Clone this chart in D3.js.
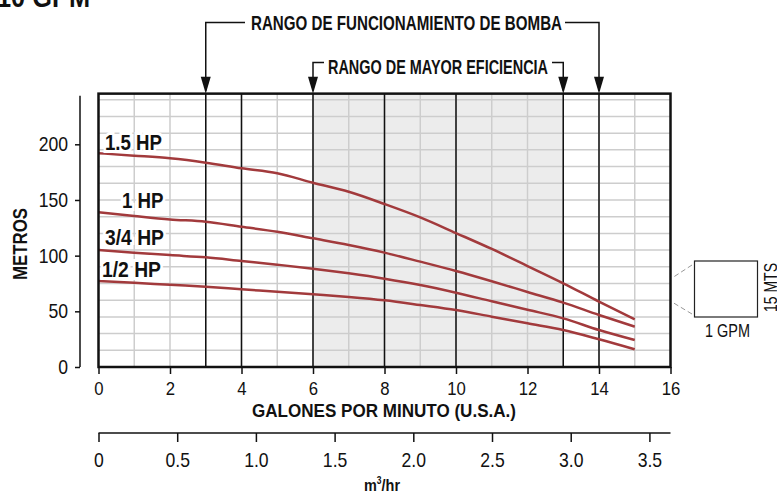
<!DOCTYPE html>
<html>
<head>
<meta charset="utf-8">
<script src="https://cdn.jsdelivr.net/npm/d3@7"></script>
<style>
  body { margin: 0; background: #fff; }
  svg { display: block; }
  text { font-family: "Liberation Sans Narrow", "Arial Narrow", "Liberation Sans", sans-serif; fill: #111; }
</style>
</head>
<body>
<div id="chart"></div>
<script>
// data
var gpm = [0, 1, 2, 3, 4, 5, 6, 7, 8, 9, 10, 11, 12, 13, 14, 15];
var hp15 = [192, 189.8, 187.4, 183.5, 178.4, 174, 165.5, 157.4, 146.4, 134.4, 120.3, 106, 90.7, 75.2, 58.7, 42.8];
var hp1  = [139, 135.6, 132.5, 130.5, 126, 121.5, 115.6, 109.6, 102.7, 94.6, 86.2, 77, 67.4, 57.8, 46.7, 36.2];
var hp34 = [105, 102.7, 100.5, 98.5, 95.2, 91.9, 88.3, 84.1, 79.3, 73.6, 66.7, 59, 51.4, 43.7, 33.2, 24.2];
var hp12 = [77.2, 75.7, 73.8, 72.1, 69.8, 67.6, 65.3, 62.9, 59.9, 55.7, 51.2, 45.2, 39.2, 33.2, 24.9, 15.9];
var seriesNames = ["1.5 HP", "1 HP", "3/4 HP", "1/2 HP"];

var xTicks = [0, 2, 4, 6, 8, 10, 12, 14, 16];
var yTicks = [0, 50, 100, 150, 200];
var m3Ticks = [0, 0.5, 1.0, 1.5, 2.0, 2.5, 3.0, 3.5];
var darkLines = [3, 4, 6, 8, 10, 13, 14];
var operRange = [3, 14];   // rango de funcionamiento
var effRange = [6, 13];    // rango de mayor eficiencia

var W = 777, H = 496;
var GPM_PER_M3 = 4.4029;
var SX = 0.88; // squeeze for the narrow look of the tick labels

var svg = d3.select("#chart").append("svg")
  .attr("width", W).attr("height", H);

//scales
var x = d3.scaleLinear().domain([0, 16]).range([98.5, 670.5]);
var y = d3.scaleLinear().domain([0, 200]).range([367, 144.3]);
var yTop = 245.5;
var xm3 = d3.scaleLinear().domain([0, 16 / GPM_PER_M3]).range([98.5, 670.5]);

var red = "#a23a3c";

//text with fixed drawn width (no narrow font installed)
function fitText(parent, str, px, py, size, len, bold, anchor) {
  return parent.append("text")
    .attr("x", px).attr("y", py)
    .attr("font-size", size)
    .attr("font-weight", bold ? "bold" : "normal")
    .attr("text-anchor", anchor || "middle")
    .attr("textLength", len)
    .attr("lengthAdjust", "spacingAndGlyphs")
    .text(str);
}

//shaded efficiency band
svg.append("rect")
  .attr("x", x(effRange[0])).attr("y", y(yTop))
  .attr("width", x(effRange[1]) - x(effRange[0]))
  .attr("height", y(0) - y(yTop))
  .attr("fill", "#ececec");

//light grid
svg.append("g").selectAll("line")
  .data(d3.range(1, 16))
  .join("line")
  .attr("x1", d => x(d)).attr("x2", d => x(d))
  .attr("y1", y(yTop)).attr("y2", y(0))
  .attr("stroke", "#cdcdcd").attr("stroke-width", 1.5);

svg.append("g").selectAll("line")
  .data(d3.range(15, 241, 15))
  .join("line")
  .attr("x1", x(0)).attr("x2", x(16))
  .attr("y1", d => y(d)).attr("y2", d => y(d))
  .attr("stroke", "#cdcdcd").attr("stroke-width", 1.5);

//dark verticals
svg.append("g").selectAll("line")
  .data(darkLines)
  .join("line")
  .attr("x1", d => x(d)).attr("x2", d => x(d))
  .attr("y1", y(yTop)).attr("y2", y(0))
  .attr("stroke", "#111").attr("stroke-width", 1.5);

//curves
var line = d3.line()
  .x((d, i) => x(gpm[i]))
  .y(d => y(d))
  .curve(d3.curveMonotoneX);

svg.append("g").selectAll("path")
  .data([hp15, hp1, hp34, hp12])
  .join("path")
  .attr("d", d => line(d))
  .attr("fill", "none")
  .attr("stroke", red)
  .attr("stroke-width", 2.5);

//box
svg.append("rect")
  .attr("x", x(0)).attr("y", y(yTop))
  .attr("width", x(16) - x(0)).attr("height", y(0) - y(yTop))
  .attr("fill", "none").attr("stroke", "#111").attr("stroke-width", 2.5);

//curve labels
var labelPos = [[105, 150, 57], [122, 208, 41.5], [105, 245, 59], [102, 277, 59]];
seriesNames.forEach(function(name, i) {
  fitText(svg, name, labelPos[i][0], labelPos[i][1], 22, labelPos[i][2], true, "start")
    .attr("stroke", "#fff").attr("stroke-width", 6)
    .attr("paint-order", "stroke");
});

//y axis
var yaxis = d3.axisLeft(y).tickValues(yTicks).tickSize(5).tickPadding(7);
var gy = svg.append("g")
  .attr("transform", "translate(80,0)")
  .call(yaxis);
gy.select(".domain").attr("d", "M0," + y(yTop - 2) + "V" + y(0)).attr("stroke", "#111").attr("stroke-width", 1.5);
gy.selectAll(".tick line").attr("stroke", "#111").attr("stroke-width", 1.5);
gy.selectAll(".tick text")
  .attr("font-size", 20).attr("font-family", null)
  .attr("x", -12 / SX)
  .attr("transform", "scale(" + SX + ",1)");

var metros = fitText(svg, "METROS", 0, 0, 21, 72, true);
metros.attr("transform", "translate(26.5,244) rotate(-90)");

//x axis (GPM)
var xaxis = d3.axisBottom(x).tickValues(xTicks).tickSize(7).tickPadding(8);
var gx = svg.append("g")
  .attr("transform", "translate(0," + y(0) + ")")
  .call(xaxis);
gx.select(".domain").remove();
gx.selectAll(".tick line").attr("stroke", "#111").attr("stroke-width", 1.5);
gx.selectAll(".tick text")
  .attr("font-size", 19).attr("font-family", null)
  .attr("transform", "scale(" + SX + ",1)");

fitText(svg, "GALONES POR MINUTO (U.S.A.)", 384, 417, 18.5, 264, true);

//x axis (m3/hr)
var m3axis = d3.axisBottom(xm3).tickValues(m3Ticks).tickSize(9).tickPadding(10.5)
  .tickFormat(d => d === 0 ? "0" : d3.format(".1f")(d));
var gm = svg.append("g")
  .attr("transform", "translate(0,433)")
  .call(m3axis);
gm.select(".domain").attr("d", "M" + xm3(0) + ",0H" + xm3(16 / GPM_PER_M3)).attr("stroke", "#111").attr("stroke-width", 1.5);
gm.selectAll(".tick line").attr("stroke", "#111").attr("stroke-width", 1.5);
gm.selectAll(".tick text")
  .attr("font-size", 20).attr("font-family", null)
  .attr("transform", "scale(" + SX + ",1)");

var m3label = svg.append("text")
  .attr("x", 382).attr("y", 491)
  .attr("text-anchor", "middle")
  .attr("font-size", 17).attr("font-weight", "bold")
  .attr("transform", "translate(" + (382 * (1 - 0.85)) + ",0) scale(0.85,1)");
m3label.append("tspan").text("m");
m3label.append("tspan").attr("font-size", 10).attr("dy", -7).text("3");
m3label.append("tspan").attr("dy", 7).text("/hr");

//range annotations
function arrowHead(g, xp, tipY) {
  g.append("path")
    .attr("d", "M" + (xp - 5) + "," + (tipY - 17) + "L" + (xp + 5) + "," + (tipY - 17) + "L" + xp + "," + tipY + "Z")
    .attr("fill", "#111");
}
var ann = svg.append("g").attr("stroke", "#111").attr("stroke-width", 1.5).attr("fill", "none");
var topY = y(yTop);

// funcionamiento
ann.append("path")
  .attr("d", "M" + x(operRange[0]) + "," + (topY - 3) + "V22.5H245");
ann.append("path")
  .attr("d", "M565,22.5H" + x(operRange[1]) + "V" + (topY - 3));
arrowHead(svg, x(operRange[0]), topY);
arrowHead(svg, x(operRange[1]), topY);
fitText(svg, "RANGO DE FUNCIONAMIENTO DE BOMBA", 406.5, 30, 21, 311, true);

// mayor eficiencia
ann.append("path")
  .attr("d", "M" + x(effRange[0]) + "," + (topY - 3) + "V62.5H324");
ann.append("path")
  .attr("d", "M552,62.5H" + x(effRange[1]) + "V" + (topY - 3));
arrowHead(svg, x(effRange[0]), topY);
arrowHead(svg, x(effRange[1]), topY);
fitText(svg, "RANGO DE MAYOR EFICIENCIA", 438, 73.5, 21, 220, true);

//title cut at the top
fitText(svg, "10 GPM", -3, 6.5, 29, 93, true, "start");

//scale legend
var lg = svg.append("g");
lg.append("rect")
  .attr("x", 694.5).attr("y", 261).attr("width", 63).attr("height", 56)
  .attr("fill", "#fff").attr("stroke", "#222").attr("stroke-width", 1.2);
lg.append("line")
  .attr("x1", 692).attr("y1", 265).attr("x2", 672).attr("y2", 278)
  .attr("stroke", "#999").attr("stroke-dasharray", "5,3");
lg.append("line")
  .attr("x1", 692).attr("y1", 314).attr("x2", 672).attr("y2", 302)
  .attr("stroke", "#999").attr("stroke-dasharray", "5,3");
fitText(lg, "1 GPM", 727.5, 337, 17.5, 45, false);
fitText(lg, "15 MTS", 0, 0, 17.5, 49, false)
  .attr("transform", "translate(777,287.5) rotate(-90)");
</script>
</body>
</html>
